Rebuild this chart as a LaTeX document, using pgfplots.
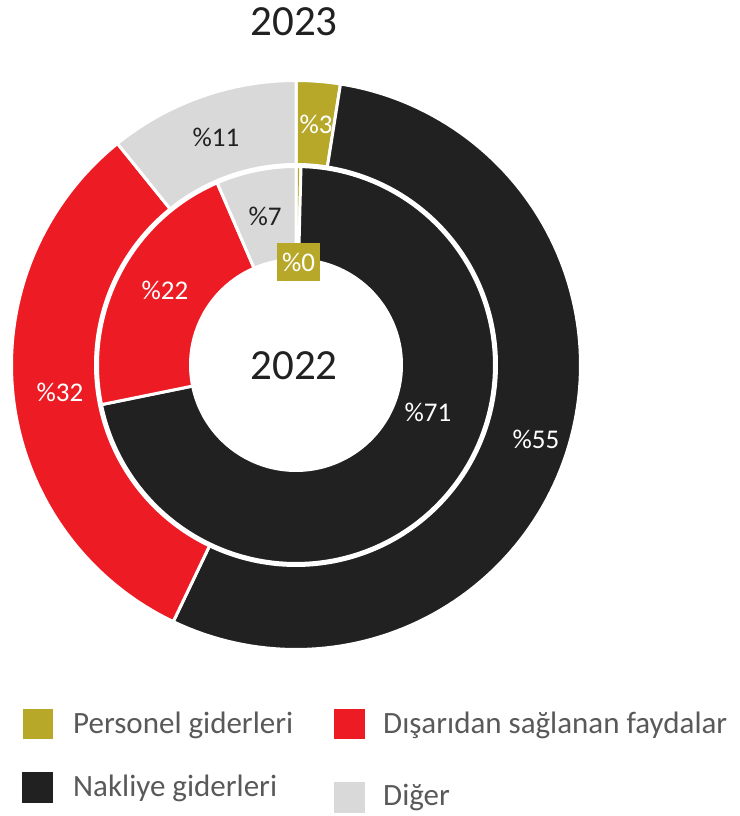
\documentclass[border=0pt]{standalone}
\usepackage{fontspec}
\setmainfont{Carlito}
\usepackage{pgfplots}
\usepackage{pgfplotstable}
\pgfplotsset{compat=1.18}
\definecolor{cOlive}{HTML}{B8A82A}
\definecolor{cBlack}{HTML}{212121}
\definecolor{cRed}{HTML}{ED1C24}
\definecolor{cGray}{HTML}{D9D9D9}
\definecolor{cLeg}{HTML}{595959}

% shares in percent: outer ring = 2023, inner ring = 2022
\pgfplotstableread{
cat y2023 y2022
Personel 2.5 0.4
Nakliye 54.6 71.4
Disaridan 32.1 21.7
Diger 10.8 6.5
}\piedata

\newcommand\slice[4]{%
  \addplot[fill=#1, draw=white, line width=3pt, line join=round,
    domain=#3:#4, samples=120, variable=\t]
    ({296+#2*sin(\t)},{451+#2*cos(\t)}) -- (axis cs:296,451) -- cycle;}
\newcommand\disk[1]{%
  \addplot[fill=white, draw=none, domain=0:360, samples=240, variable=\t]
    ({296+#1*sin(\t)},{451+#1*cos(\t)}) -- cycle;}

\begin{document}
\begin{tikzpicture}
\useasboundingbox (0,0) rectangle (739pt,816pt);
\pgfplotstablegetelem{0}{y2023}\of\piedata \pgfmathsetmacro\oa{3.6*\pgfplotsretval}
\pgfplotstablegetelem{1}{y2023}\of\piedata \pgfmathsetmacro\ob{\oa+3.6*\pgfplotsretval}
\pgfplotstablegetelem{2}{y2023}\of\piedata \pgfmathsetmacro\oc{\ob+3.6*\pgfplotsretval}
\pgfplotstablegetelem{3}{y2023}\of\piedata \pgfmathsetmacro\od{\oc+3.6*\pgfplotsretval}
\pgfplotstablegetelem{0}{y2022}\of\piedata \pgfmathsetmacro\ia{3.6*\pgfplotsretval}
\pgfplotstablegetelem{1}{y2022}\of\piedata \pgfmathsetmacro\ib{\ia+3.6*\pgfplotsretval}
\pgfplotstablegetelem{2}{y2022}\of\piedata \pgfmathsetmacro\ic{\ib+3.6*\pgfplotsretval}
\pgfplotstablegetelem{3}{y2022}\of\piedata \pgfmathsetmacro\id{\ic+3.6*\pgfplotsretval}
\begin{axis}[at={(0,0)}, anchor=south west, width=739pt, height=816pt,
  scale only axis, xmin=0, xmax=739, ymin=0, ymax=816, hide axis, clip=false]
% outer ring 2023
\slice{cOlive}{284.5}{0}{\oa}
\slice{cBlack}{284.5}{\oa}{\ob}
\slice{cRed}{284.5}{\ob}{\oc}
\slice{cGray}{284.5}{\oc}{\od}
\disk{202}
% inner ring 2022
\slice{cOlive}{198.5}{0}{\ia}
\slice{cBlack}{198.5}{\ia}{\ib}
\slice{cRed}{198.5}{\ib}{\ic}
\slice{cGray}{198.5}{\ic}{\id}
\disk{107}
% labels
\begin{scope}[every node/.style={font=\fontsize{27}{32}\selectfont, inner sep=0pt}]
\node[text=white] at (axis cs:316,692) {\%3};
\node[text=white] at (axis cs:536,377) {\%55};
\node[text=white] at (axis cs:60,424) {\%32};
\node[text=cBlack] at (axis cs:216,679) {\%11};
\node[text=cBlack] at (axis cs:265,600) {\%7};
\node[text=white] at (axis cs:165,526) {\%22};
\node[text=white] at (axis cs:428,404) {\%71};
\node[text=white, fill=cOlive, minimum width=43pt, minimum height=38pt] at (axis cs:298.5,554) {\%0};
\end{scope}
\node[anchor=base, inner sep=0pt, text=cBlack, font=\fontsize{43}{50}\selectfont] at (axis cs:294,436) {2022};
\node[anchor=base, inner sep=0pt, text=cBlack, font=\fontsize{43}{50}\selectfont] at (axis cs:294,780) {2023};
% legend
\addplot[fill=cOlive, draw=none] coordinates {(23,77) (53,77) (53,107) (23,107)} -- cycle;
\addplot[fill=cBlack, draw=none] coordinates {(22,13) (53,13) (53,44) (22,44)} -- cycle;
\addplot[fill=cRed, draw=none] coordinates {(334,77) (365,77) (365,107) (334,107)} -- cycle;
\addplot[fill=cGray, draw=none] coordinates {(334,3) (365,3) (365,34) (334,34)} -- cycle;
\begin{scope}[every node/.style={anchor=base west, inner sep=0pt, text=cLeg, font=\fontsize{31}{36}\selectfont}]
\node at (axis cs:73,82) {Personel giderleri};
\node at (axis cs:73,19) {Nakliye giderleri};
\node at (axis cs:383,82) {Dışarıdan sağlanan faydalar};
\node at (axis cs:383,10) {Diğer};
\end{scope}
\end{axis}
\end{tikzpicture}
\end{document}
